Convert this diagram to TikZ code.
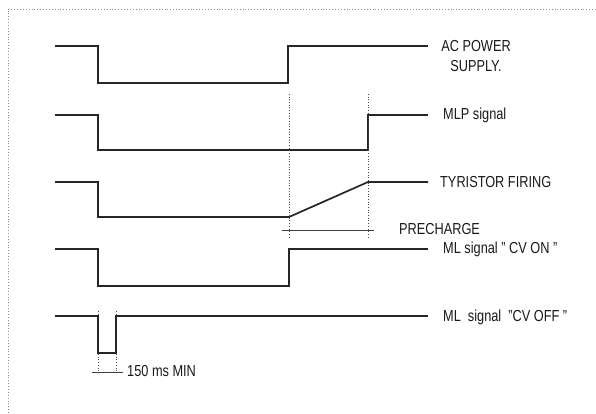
\documentclass[tikz,border=0pt]{standalone}
\usepackage{fontspec}
\setmainfont{Liberation Sans}[FakeStretch=0.8]
\begin{document}
\begin{tikzpicture}[x=1bp,y=-1bp,
  sig/.style={draw=black!85, line width=1.7bp},
  guide/.style={draw=black!70, line width=0.7pt, dotted},
  frame/.style={draw=black!45, line width=0.9pt, dotted},
  meas/.style={draw=black!75, line width=0.6pt},
  lbl/.style={anchor=west, inner sep=0pt, text=black!90, font=\fontsize{16}{20}\selectfont}]
\useasboundingbox (0,0) rectangle (596,413);
% frame
\draw[frame] (8,413) -- (8,9) -- (596,9);
% AC power
\coordinate (acE) at (428,46);
\draw[sig] (55,46) -- (98,46) -- (98,83) -- (288,83) -- (288,46) -- (acE);
\node[lbl, anchor=center, align=center] (acL) at (476,56) {AC POWER\\SUPPLY.};
% MLP
\coordinate (mlpE) at (428,115);
\draw[sig] (55,115) -- (98,115) -- (98,150) -- (368,150) -- (368,115) -- (mlpE);
\node[lbl] (mlpL) at (443,115) {MLP signal};
% Tyristor
\coordinate (tyA) at (289,217);
\coordinate (tyB) at (368,182);
\coordinate (tyE) at (428,182);
\draw[sig] (55,182) -- (98,182) -- (98,217) -- (tyA) -- (tyB) -- (tyE);
\node[lbl] (tyL) at (440,182) {TYRISTOR FIRING};
% guides
\draw[guide] (289,94) -- (289,238);
\draw[guide] (368,94) -- (368,238);
\draw[meas] (282,230) -- (374,230);
\node[lbl] (preL) at (399,229) {PRECHARGE};
% CV ON
\coordinate (onE) at (428,249);
\draw[sig] (55,249) -- (98,249) -- (98,286) -- (289,286) -- (289,249) -- (onE);
\node[lbl] (onL) at (443,249) {ML signal \symbol{34} CV ON \symbol{34}};
% CV OFF
\coordinate (offE) at (428,316);
\draw[guide] (98,311) -- (98,372);
\draw[guide] (116,311) -- (116,372);
\draw[sig] (55,316) -- (98,316) -- (98,353) -- (116,353) -- (116,316) -- (offE);
\node[lbl] (offL) at (443,317) {ML\ \ signal\ \ \symbol{34}CV OFF \symbol{34}};
\draw[meas] (92,372) -- (123,372);
\node[lbl] (msL) at (127,371) {150 ms MIN};
\end{tikzpicture}
\end{document}
